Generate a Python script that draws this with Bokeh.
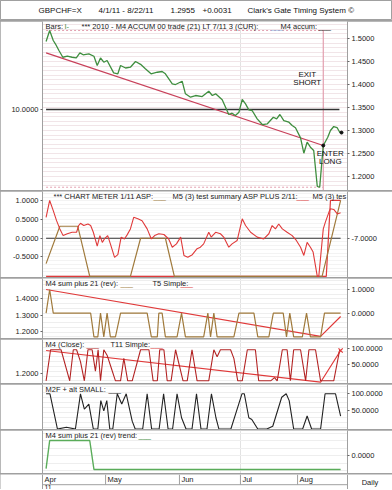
from bokeh.plotting import figure
from bokeh.models import (Range1d, LinearAxis, FixedTicker, SingleIntervalTicker,
                          Label, NumeralTickFormatter)
from bokeh.layouts import column
from bokeh.embed import file_html
from bokeh.resources import INLINE
from bokeh.core.properties import value

# ---------------- data ----------------
header_items = ["GBPCHF=X", "4/1/11 - 8/22/11", "1.2955", "+0.0031",
                "Clark's Gate Timing System \u00a9"]
month_labels = ["Apr", "May", "Jun", "Jul", "Aug"]
month_pos = [0, 21.1, 45.8, 66.2, 85.3]
year_label = "11"
period_label = "Daily"

# panel 1 : price (green), trend line, level line
price_day = [1.2, 2.4, 3.6, 4.3, 5.5, 6.8, 8.3, 9.9, 11.3, 12.5, 13.6, 15.5, 17.2, 18.3, 19.4,
             20.5, 21.6, 23.8, 25.2, 26.1, 27.8, 29.4, 31.1, 32.8, 34.4, 36.3, 38.4, 40.0, 41.1,
             43.4, 44.5, 46.7, 47.8, 49.5, 51.2, 53.4, 55.6, 56.8, 57.9, 60.1, 62.3, 63.4, 64.5,
             65.7, 66.8, 67.9, 69.0, 70.1, 71.8, 73.5, 75.2, 77.2, 78.3, 79.4, 80.7, 82.4, 83.5,
             84.6, 86.3, 87.4, 88.5, 89.6, 90.7, 91.9, 92.7, 93.9, 95.4, 96.3, 97.4, 98.5, 99.4,
             100.0]
price_val = [1.4935, 1.5174, 1.4957, 1.4885, 1.4739, 1.4593, 1.4615, 1.4593, 1.4580, 1.4689,
             1.4646, 1.4667, 1.4615, 1.4413, 1.4576, 1.4485, 1.4522, 1.4254, 1.4233, 1.4413,
             1.4359, 1.4376, 1.4500, 1.4439, 1.4341, 1.4233, 1.4267, 1.4283, 1.4233, 1.4015,
             1.4000, 1.4072, 1.3798, 1.3724, 1.3761, 1.3739, 1.3854, 1.3761, 1.3798, 1.3667,
             1.3348, 1.3376, 1.3326, 1.3398, 1.3674, 1.3580, 1.3450, 1.3435, 1.3254, 1.3130,
             1.3146, 1.3289, 1.3254, 1.3348, 1.3217, 1.3180, 1.3109, 1.3059, 1.2841, 1.2507,
             1.2746, 1.2637, 1.2565, 1.1783, 1.1767, 1.2674, 1.2855, 1.3000, 1.3087, 1.3065,
             1.2963, 1.2955]
trend_day = [1.2, 93.9]
trend_val = [1.4689, 1.2674]
level_day = [1.2, 99.3]
level_left = 10.0          # value on the left scale
level_price = 1.3457       # same height on the price scale
exit_day = 93.9

# panel 2 : chart meter
asp_day = [1.2, 2.4, 3.6, 4.7, 5.8, 6.9, 8.3, 9.9, 11.4, 12.1, 12.7, 13.8, 15.2, 16.1, 17.0,
           18.3, 19.2, 20.0, 20.7, 21.8, 22.7, 24.1, 25.2, 26.3, 27.4, 28.3, 29.4, 30.5, 31.9,
           33.3, 35.0, 36.4, 37.5, 38.9, 40.6, 42.2, 43.4, 44.8, 46.2, 47.3, 48.6, 50.1, 51.7,
           52.8, 53.9, 55.6, 56.4, 57.9, 59.5, 60.6, 62.3, 63.4, 65.1, 66.8, 67.9, 69.6, 71.8,
           74.0, 75.7, 76.8, 77.9, 79.0, 80.2, 81.8, 83.5, 84.9, 86.3, 87.4, 88.5, 89.6, 90.5,
           91.9, 92.4, 93.9, 94.6, 95.8, 96.3, 97.4, 98.6, 99.7]
asp_val = [0.56, 1.01, 0.74, 0.47, 0.25, 0.07, 0.12, 0.16, 0.16, 0.34, 0.40, 0.34, 0.38, 0.34,
           0.16, -0.21, 0.07, -0.11, -0.02, 0.07, -0.15, -0.51, -0.44, 0.03, -0.02, 0.09, 0.25,
           0.56, 0.52, 0.47, 0.25, -0.02, 0.07, 0.12, 0.10, -0.02, -0.24, -0.15, 0.03, -0.46,
           -0.51, -0.44, -0.28, -0.24, -0.15, 0.16, 0.03, 0.16, 0.12, 0.03, -0.24, -0.15, -0.06,
           0.52, 0.34, 0.16, 0.03, -0.02, 0.12, 0.34, 0.25, 0.38, 0.25, 0.16, 0.07, -0.06, -0.24,
           -0.46, -0.11, -0.24, -0.37, -1.02, -1.02, 0.25, 0.43, 0.70, 0.79, 0.77, 0.65, 0.68]
m5_day = [1.2, 5.8, 11.8, 15.8, 29.4, 32.8, 41.1, 44.1, 93.5, 99.7]
m5_val = [-0.68, 0.32, 0.32, -1.02, -1.02, 0.0, 0.0, -1.02, -1.02, 1.01]
summ_day = [1.2, 94.9, 96.3, 99.7]
summ_val = [-1.02, -1.02, 1.01, 1.01]
meter_zero_day = [1.2, 99.7]
meter_zero = 0.0
meter_right_label = -7.0

# panel 3 : M4 sum plus 21 (rev) / T5 simple
sum_day = [1.2, 2.4, 3.6, 16.1, 17.2, 18.5, 19.4, 20.5, 21.6, 22.7, 24.4, 26.1, 35.0, 36.4,
           38.4, 38.9, 40.0, 41.1, 45.0, 46.5, 47.8, 53.9, 55.3, 56.2, 57.3, 58.4, 64.0, 65.7,
           70.7, 72.0, 75.7, 77.2, 80.5, 81.6, 82.7, 84.0, 86.9, 88.3, 89.6, 93.0, 94.3, 99.7]
sum_val = [0, 1, 0, 0, -1, -1, 0, -1, 0, -1, -1, 0, 0, -1, -1, 0, 0, -1, -1, 0, -1, -1, 0, -1,
           0, -1, -1, 0, 0, -1, -1, 0, 0, -1, 0, -1, -1, 0, -1, -1, 0, 0]
t5_day = [1.2, 93.0, 99.7]
t5_val = [1.0, -0.98, -0.14]

# panel 4 : M4 (Close) / T11 simple
close_day = [1.2, 2.7, 6.2, 9.1, 10.3, 11.4, 12.7, 14.0, 15.2, 16.6, 17.7, 18.6, 19.4, 20.5,
             21.6, 23.0, 24.4, 26.1, 27.2, 28.5, 30.0, 32.8, 35.6, 37.0, 38.4, 39.2, 40.6, 41.7,
             43.0, 44.5, 47.0, 48.4, 50.0, 51.7, 55.6, 57.3, 58.4, 59.5, 62.9, 64.0, 65.3, 66.8,
             68.5, 71.2, 72.3, 76.3, 77.6, 78.5, 80.2, 81.8, 82.9, 84.0, 86.3, 88.0, 89.1, 91.3,
             93.0, 97.4, 99.4]
close_val = [0, 97, 97, 0, 97, 97, 60, 0, 97, 97, 30, 97, 0, 97, 80, 40, 0, 0, 70, 0, 0, 97,
             97, 0, 0, 97, 97, 0, 0, 97, 0, 0, 97, 0, 0, 97, 75, 97, 97, 70, 0, 0, 97, 97, 0, 0,
             10, 0, 97, 97, 0, 97, 97, 0, 97, 97, 0, 0, 97]
t11_day = [1.2, 93.0, 99.7]
t11_val = [94.7, -4.4, 94.7]
close_left_tick = 1.2

# panel 5 : M2F + alt SMALL
small_day = [1.2, 2.5, 5.0, 8.0, 11.0, 12.7, 14.0, 15.5, 17.0, 18.5, 19.5, 20.5, 21.5, 22.5,
             23.5, 25.0, 26.5, 28.0, 30.0, 31.0, 33.5, 35.0, 36.5, 39.0, 40.5, 42.0, 43.5, 45.0,
             46.5, 48.0, 50.0, 51.5, 53.0, 55.0, 56.5, 58.0, 59.0, 63.0, 66.7, 67.5, 69.0, 70.0,
             72.0, 75.0, 77.0, 80.0, 81.5, 82.5, 84.0, 87.0, 88.5, 90.0, 93.0, 94.5, 98.0, 99.7]
small_val = [100, 100, -3, 2, -3, 100, 55, 70, -3, -3, 80, 50, 80, -3, -3, 100, 70, 100, 20,
             -3, -3, 100, -3, -3, 100, -3, -3, 100, 30, -3, -3, 100, -3, -3, 100, 30, -3, -3,
             100, 100, 30, 25, -3, -3, 5, 90, 100, 80, -3, -3, 35, -3, -3, 100, 100, 35]

# panel 6 : trend
trend6_day = [1.2, 2.4, 15.8, 17.2, 99.7]
trend6_val = [-0.88, 1.0, 1.0, -0.93, -0.93]

# ---------------- style ----------------
FONT = "Liberation Sans"
W, LB, RB = 392, 42, 45
FRAME_W = W - LB - RB
AX = "#a0a0a0"
GREEN = "#3f8e3f"
RED = "#e03a3a"
BROWN = "#a07a3c"
DKRED = "#b32424"
PINK = "#e3a0b0"

xr = Range1d(0, 102)
ppd = FRAME_W / (xr.end - xr.start)       # pixels per day


def make_panel(h, ylo, yhi):
    p = figure(width=W, height=h, x_range=xr, y_range=Range1d(ylo, yhi),
               output_backend="svg", toolbar_location=None,
               x_axis_location=None, y_axis_location=None,
               min_border_left=LB, min_border_right=RB,
               min_border_top=0, min_border_bottom=0)
    p.outline_line_color = None
    p.background_fill_color = "white"
    p.border_fill_color = "white"
    p.xgrid.ticker = FixedTicker(ticks=[month_pos[3]])
    p.xgrid.grid_line_color = "#e2e2e2"
    p.ygrid.grid_line_color = "#eeeeee"
    return p


def add_axis(p, side, ticks, range_name=None):
    kw = {}
    if range_name:
        kw["y_range_name"] = range_name
    ax = LinearAxis(ticker=FixedTicker(ticks=ticks),
                    formatter=NumeralTickFormatter(format="0.0000"), **kw)
    ax.axis_line_color = AX
    ax.major_tick_line_color = "#666666"
    ax.major_tick_out = 2
    ax.major_tick_in = 0
    ax.minor_tick_line_color = None
    ax.major_label_text_font = FONT
    ax.major_label_text_font_size = "7.5px"
    ax.major_label_text_color = "#222222"
    ax.major_label_standoff = 2
    p.add_layout(ax, side)


def add_legend(p, items):
    for off, txt, col in items:
        p.add_layout(Label(x=xr.start, y=p.y_range.end, x_offset=off, y_offset=0,
                           text=txt, text_color=col, text_font=FONT,
                           text_font_size="7.5px", text_baseline="top"))


# ---------------- header ----------------
header_x = [38, 98, 170, 202, 247]
ph = figure(width=W, height=20, x_range=Range1d(0, W), y_range=Range1d(0, 1),
            output_backend="svg", toolbar_location=None,
            x_axis_location=None, y_axis_location=None,
            min_border_left=0, min_border_right=0, min_border_top=0, min_border_bottom=0)
ph.frame_align = False
ph.grid.grid_line_color = None
ph.outline_line_color = AX
ph.text(x=header_x, y=[0.5] * len(header_x), text=header_items,
        text_font=value(FONT), text_font_size="8px", text_baseline="middle",
        text_color="#111111")

# ---------------- panel 1 ----------------
p1_lo, p1_hi = 1.1696, 1.537
p1 = make_panel(169, p1_lo, p1_hi)
p1.ygrid.ticker = SingleIntervalTicker(interval=0.01)
p1.ygrid.grid_line_color = "#f1e5e8"
p1.extra_y_ranges = {"L": Range1d(p1_lo - level_price + level_left,
                                  p1_hi - level_price + level_left)}
add_axis(p1, "right", [1.2, 1.25, 1.3, 1.35, 1.4, 1.45, 1.5])
add_axis(p1, "left", [level_left], "L")

box_top = max(price_val)
box_bot = min(price_val)
p1.line([price_day[0], exit_day], [box_top, box_top], color=PINK, line_dash="2 2", line_width=1)
p1.line([price_day[0], exit_day], [box_bot, box_bot], color=PINK, line_dash="2 2", line_width=1)
p1.line([exit_day, exit_day], [p1_lo, box_top], color=PINK, line_width=1.2)
p1.line(level_day, [level_left] * 2, y_range_name="L", color="#333333", line_width=1.3)
p1.line(trend_day, trend_val, color="#c8405a", line_width=1.2)
p1.line(price_day, price_val, color=GREEN, line_width=1.3)
p1.scatter([trend_day[-1], price_day[-1]], [trend_val[-1], price_val[-1]], size=3,
           color="#111111")
for txt, yv, off in [("EXIT", 1.4217, -16), ("SHORT", 1.4043, -16),
                     ("ENTER", 1.2500, 7), ("LONG", 1.2326, 7)]:
    p1.add_layout(Label(x=exit_day, y=yv, x_offset=off, text=txt, text_align="center",
                        text_baseline="middle", text_font=FONT, text_font_size="8px",
                        text_color="#111111"))
add_legend(p1, [(3, "Bars:", "#222222"), (22, "I-", GREEN),
                (39, "*** 2010 - M4 ACCUM 00 trade (21)  LT  7/11 3 (CUR):", "#222222"),
                (228, "___", "#7fb0e0"), (238, "M4 accum:", "#222222"),
                (276, "___", "#222222")])

# ---------------- panel 2 ----------------
p2_lo, p2_hi = -1.05, 1.25
p2 = make_panel(86, p2_lo, p2_hi)
p2.ygrid.ticker = SingleIntervalTicker(interval=0.1)
p2.ygrid.grid_line_color = "#f3f3f3"
p2.extra_y_ranges = {"R": Range1d(p2_lo + meter_right_label, p2_hi + meter_right_label)}
add_axis(p2, "left", [1.0, 0.5, 0.0, -0.5])
add_axis(p2, "right", [meter_right_label], "R")
p2.line(meter_zero_day, [meter_zero] * 2, color="#333333", line_width=1.2)
p2.line(summ_day, summ_val, color=RED, line_width=1.2)
p2.line(m5_day, m5_val, color=BROWN, line_width=1.2)
p2.line(asp_day, asp_val, color=RED, line_width=1.1)
add_legend(p2, [(11, "*** CHART METER 1/11 ASP:", "#222222"), (111, "___", BROWN),
                (130, "M5 (3) test summary ASP PLUS 2/11:", "#222222"),
                (254, "___", RED), (270, "M5 (3) tes", "#222222")])

# ---------------- panel 3 ----------------
p3_lo, p3_hi = -1.068, 1.464
p3 = make_panel(60, p3_lo, p3_hi)
p3.ygrid.ticker = SingleIntervalTicker(interval=0.2)
p3.extra_y_ranges = {"L": Range1d(1.1594, 1.523)}
add_axis(p3, "right", [1.0, 0.0])
add_axis(p3, "left", [1.4, 1.3, 1.2], "L")
p3.line(t5_day, t5_val, color=RED, line_width=1.2)
p3.line(sum_day, sum_val, color=BROWN, line_width=1.2)
add_legend(p3, [(3, "M4 sum plus 21 (rev):", "#222222"), (78, "___", BROWN),
                (110, "T5 Simple:", "#222222"), (138, "___", RED)])

# ---------------- panel 4 ----------------
p4_lo, p4_hi = -8.4, 129
p4 = make_panel(44, p4_lo, p4_hi)
p4.ygrid.ticker = SingleIntervalTicker(interval=15)
p4.extra_y_ranges = {"L": Range1d(1.103, 1.543)}
add_axis(p4, "right", [100, 50])
add_axis(p4, "left", [close_left_tick], "L")
p4.line(t11_day, t11_val, color=RED, line_width=1.2)
p4.line(close_day, close_val, color=DKRED, line_width=1.1)
p4.scatter([t11_day[-1]], [t11_val[-1]], marker="x", size=6, color=RED, line_width=1.2)
add_legend(p4, [(3, "M4 (Close):", "#222222"), (44, "___", DKRED),
                (68, "T11 Simple:", "#222222"), (108, "___", RED)])

# ---------------- panel 5 ----------------
p5_lo, p5_hi = -4.4, 127.2
p5 = make_panel(45, p5_lo, p5_hi)
p5.ygrid.ticker = SingleIntervalTicker(interval=15)
add_axis(p5, "right", [100, 50])
add_axis(p5, "left", [])
p5.line(small_day, small_val, color="#222222", line_width=1.1)
add_legend(p5, [(3, "M2F + alt SMALL:", "#222222"), (66, "___", "#222222")])

# ---------------- panel 6 ----------------
p6_lo, p6_hi = -1.2, 1.667
p6 = make_panel(43, p6_lo, p6_hi)
p6.ygrid.ticker = SingleIntervalTicker(interval=0.5)
add_axis(p6, "right", [0.0])
add_axis(p6, "left", [])
p6.line(trend6_day, trend6_val, color="#5aac5a", line_width=1.4)
add_legend(p6, [(3, "M4 sum plus 21 (rev) trend:", "#222222"), (96, "___", GREEN)])

# ---------------- date axis (own full-width frame) ----------------
ax_range = Range1d(xr.start - LB / ppd, xr.end + RB / ppd)
pa = figure(width=W, height=15, x_range=ax_range, y_range=Range1d(0, 1),
            output_backend="svg", toolbar_location=None,
            x_axis_location=None, y_axis_location=None,
            min_border_left=0, min_border_right=0, min_border_top=0, min_border_bottom=0)
pa.frame_align = False
pa.grid.grid_line_color = None
pa.outline_line_color = None
row_split = 0.32
edges = [xr.start, xr.end]
pa.segment(x0=edges, y0=[0, 0], x1=edges, y1=[1, 1], color=AX, line_width=1)
pa.segment(x0=[xr.start], y0=[row_split], x1=[xr.end], y1=[row_split], color=AX, line_width=1)
pa.segment(x0=month_pos, y0=[row_split] * len(month_pos), x1=month_pos,
           y1=[1.0] * len(month_pos), color=AX, line_width=1)
pa.text(x=month_pos, y=[0.66] * len(month_pos), text=month_labels, x_offset=2,
        text_font=value(FONT), text_font_size="7.5px", text_baseline="middle",
        text_color="#222222")
pa.text(x=[month_pos[0]], y=[0.0], text=[year_label], x_offset=2,
        text_font=value(FONT), text_font_size="7px", text_baseline="bottom",
        text_color="#222222")
pa.text(x=[xr.end], y=[0.5], text=[period_label], x_offset=RB / 2, text_align="center",
        text_baseline="middle", text_font=value(FONT), text_font_size="7.5px",
        text_color="#222222")

layout = column(ph, p1, p2, p3, p4, p5, p6, pa, spacing=1,
                styles={"background-color": AX})

open("out.html", "w").write(file_html(layout, INLINE))
